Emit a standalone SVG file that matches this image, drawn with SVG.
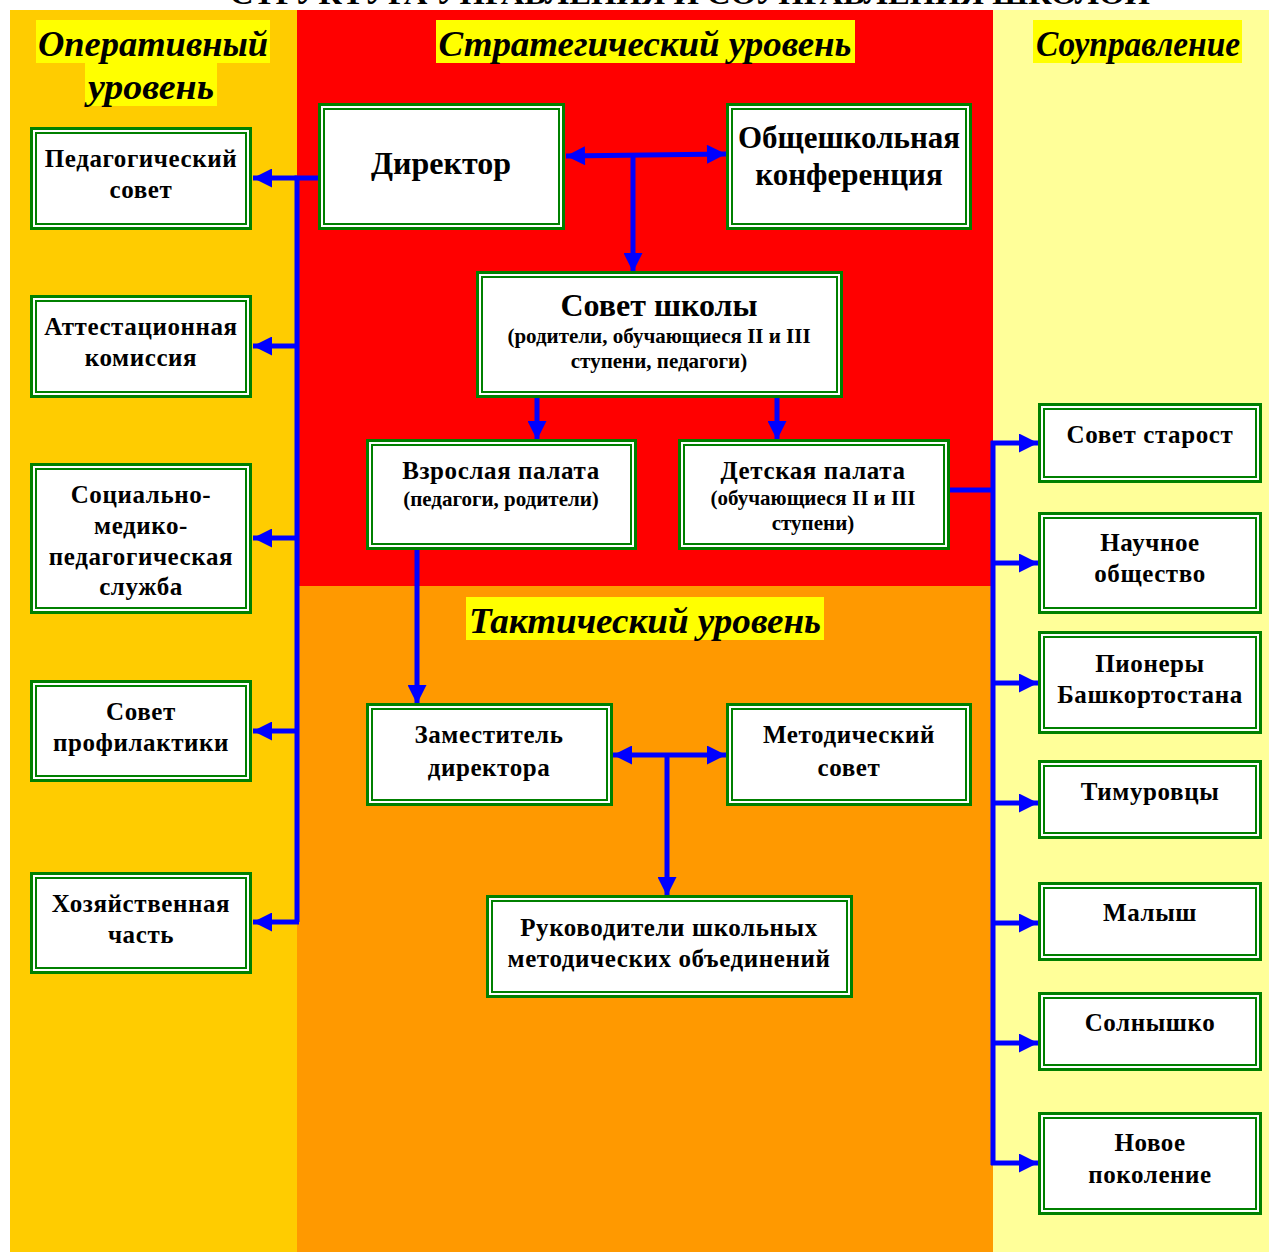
<svg xmlns="http://www.w3.org/2000/svg" width="1269" height="1252" viewBox="0 0 1269 1252">
<defs>
<style>
.box{fill:#fff;stroke:#008000;stroke-width:3}
.inner{fill:none;stroke:#008000;stroke-width:2}
.t{font-family:"Liberation Serif","Times New Roman",serif;font-weight:bold;fill:#000;text-anchor:middle}
.n{font-size:25px;letter-spacing:0.6px}
.s{font-size:21px}
.h{font-family:"Liberation Serif","Times New Roman",serif;font-weight:bold;font-style:italic;font-size:36px;fill:#000;text-anchor:middle}
.hl{fill:#FFFF00}
.c{stroke:#0000FF;stroke-width:5;fill:none}
</style>
<marker id="ah" viewBox="0 0 10 10" refX="10" refY="5" markerWidth="4.4" markerHeight="3.8" orient="auto-start-reverse" markerUnits="strokeWidth">
<path d="M0,0 L10,5 L0,10 z" fill="#0000FF"/>
</marker>
</defs>
<rect x="0" y="0" width="1269" height="1252" fill="#fff"/>
<rect x="10" y="10" width="287" height="1242" fill="#FFCC00"/>
<rect x="297" y="10" width="696" height="576" fill="#FF0000"/>
<rect x="297" y="586" width="696" height="666" fill="#FF9900"/>
<rect x="993" y="10" width="276" height="1242" fill="#FFFF99"/>
<text x="690" y="4" class="t" font-size="30" textLength="920" lengthAdjust="spacingAndGlyphs">СТРУКТУРА УПРАВЛЕНИЯ И СОУПРАВЛЕНИЯ ШКОЛОЙ</text>

<g id="headers">
<rect x="36" y="20" width="234" height="43" class="hl"/>
<rect x="85" y="63" width="132" height="43" class="hl"/>
<text x="153" y="56" class="h" textLength="230" lengthAdjust="spacingAndGlyphs">Оперативный</text>
<text x="151" y="99" class="h" textLength="126" lengthAdjust="spacingAndGlyphs">уровень</text>
<rect x="436" y="20" width="419" height="43" class="hl"/>
<text x="645" y="56" class="h" textLength="413" lengthAdjust="spacingAndGlyphs">Стратегический уровень</text>
<rect x="1033" y="20" width="209" height="43" class="hl"/>
<text x="1138" y="56" class="h" textLength="204" lengthAdjust="spacingAndGlyphs">Соуправление</text>
<rect x="466" y="597" width="358" height="43" class="hl"/>
<text x="645" y="633" class="h" textLength="352" lengthAdjust="spacingAndGlyphs">Тактический уровень</text>
</g>

<g id="connectors">
<polyline class="c" points="320,178 297,178 297,922"/>
<line class="c" x1="297" y1="178" x2="253" y2="178" marker-end="url(#ah)"/>
<line class="c" x1="297" y1="346" x2="253" y2="346" marker-end="url(#ah)"/>
<line class="c" x1="297" y1="538" x2="253" y2="538" marker-end="url(#ah)"/>
<line class="c" x1="297" y1="731" x2="253" y2="731" marker-end="url(#ah)"/>
<line class="c" x1="299" y1="922" x2="253" y2="922" marker-end="url(#ah)"/>
<line class="c" x1="566" y1="156" x2="726" y2="154" marker-start="url(#ah)" marker-end="url(#ah)"/>
<line class="c" x1="633" y1="155" x2="633" y2="272" marker-end="url(#ah)"/>
<line class="c" x1="537" y1="398" x2="537" y2="440" marker-end="url(#ah)"/>
<line class="c" x1="777" y1="398" x2="777" y2="440" marker-end="url(#ah)"/>
<line class="c" x1="417" y1="540" x2="417" y2="704" marker-end="url(#ah)"/>
<polyline class="c" points="946,490 993,490"/>
<line class="c" x1="993" y1="441" x2="993" y2="1165"/>
<line class="c" x1="991" y1="443" x2="1038" y2="443" marker-end="url(#ah)"/>
<line class="c" x1="993" y1="563" x2="1038" y2="563" marker-end="url(#ah)"/>
<line class="c" x1="993" y1="683" x2="1038" y2="683" marker-end="url(#ah)"/>
<line class="c" x1="993" y1="803" x2="1038" y2="803" marker-end="url(#ah)"/>
<line class="c" x1="993" y1="923" x2="1038" y2="923" marker-end="url(#ah)"/>
<line class="c" x1="993" y1="1043" x2="1038" y2="1043" marker-end="url(#ah)"/>
<line class="c" x1="991" y1="1163" x2="1038" y2="1163" marker-end="url(#ah)"/>
<line class="c" x1="613" y1="755" x2="726" y2="755" marker-start="url(#ah)" marker-end="url(#ah)"/>
<line class="c" x1="667" y1="755" x2="667" y2="896" marker-end="url(#ah)"/>
</g>

<g id="n-ped"><rect x="31.5" y="128.5" width="219" height="100" class="box"/><rect x="36" y="133" width="210" height="91" class="inner"/>
<text x="141" y="167" class="t n">Педагогический</text><text x="141" y="198" class="t n">совет</text></g>
<g id="n-att"><rect x="31.5" y="296.5" width="219" height="100" class="box"/><rect x="36" y="301" width="210" height="91" class="inner"/>
<text x="141" y="335" class="t n">Аттестационная</text><text x="141" y="366" class="t n">комиссия</text></g>
<g id="n-soc"><rect x="31.5" y="464.5" width="219" height="148" class="box"/><rect x="36" y="469" width="210" height="139" class="inner"/>
<text x="141" y="503" class="t n">Социально-</text><text x="141" y="534" class="t n">медико-</text><text x="141" y="565" class="t n">педагогическая</text><text x="141" y="595" class="t n">служба</text></g>
<g id="n-prof"><rect x="31.5" y="681.5" width="219" height="99" class="box"/><rect x="36" y="686" width="210" height="90" class="inner"/>
<text x="141" y="720" class="t n">Совет</text><text x="141" y="751" class="t n">профилактики</text></g>
<g id="n-hoz"><rect x="31.5" y="873.5" width="219" height="99" class="box"/><rect x="36" y="878" width="210" height="90" class="inner"/>
<text x="141" y="912" class="t n">Хозяйственная</text><text x="141" y="943" class="t n">часть</text></g>

<g id="n-dir"><rect x="319.5" y="104.5" width="244" height="124" class="box"/><rect x="324" y="109" width="235" height="115" class="inner"/>
<text x="441" y="174" class="t" font-size="32">Директор</text></g>
<g id="n-konf"><rect x="727.5" y="104.5" width="243" height="124" class="box"/><rect x="732" y="109" width="234" height="115" class="inner"/>
<text x="849" y="148" class="t" font-size="31">Общешкольная</text><text x="849" y="185" class="t" font-size="31">конференция</text></g>
<g id="n-sovet"><rect x="477.5" y="272.5" width="364" height="124" class="box"/><rect x="482" y="277" width="355" height="115" class="inner"/>
<text x="659" y="316" class="t" font-size="32">Совет школы</text>
<text x="659" y="343" class="t s">(родители, обучающиеся II и III</text><text x="659" y="368" class="t s">ступени, педагоги)</text></g>
<g id="n-vzr"><rect x="367.5" y="440.5" width="268" height="108" class="box"/><rect x="372" y="445" width="259" height="99" class="inner"/>
<text x="501" y="479" class="t n">Взрослая палата</text><text x="501" y="506" class="t s">(педагоги, родители)</text></g>
<g id="n-det"><rect x="679.5" y="440.5" width="269" height="108" class="box"/><rect x="684" y="445" width="260" height="99" class="inner"/>
<text x="813" y="479" class="t n">Детская палата</text><text x="813" y="505" class="t s">(обучающиеся II и III</text><text x="813" y="530" class="t s">ступени)</text></g>
<g id="n-zam"><rect x="367.5" y="704.5" width="244" height="100" class="box"/><rect x="372" y="709" width="235" height="91" class="inner"/>
<text x="489" y="743" class="t n">Заместитель</text><text x="489" y="776" class="t n">директора</text></g>
<g id="n-met"><rect x="727.5" y="704.5" width="243" height="100" class="box"/><rect x="732" y="709" width="234" height="91" class="inner"/>
<text x="849" y="743" class="t n">Методический</text><text x="849" y="776" class="t n">совет</text></g>
<g id="n-ruk"><rect x="487.5" y="896.5" width="364" height="100" class="box"/><rect x="492" y="901" width="355" height="91" class="inner"/>
<text x="669" y="936" class="t n">Руководители школьных</text><text x="669" y="967" class="t n">методических объединений</text></g>

<g id="n-star"><rect x="1039.5" y="404.5" width="221" height="77" class="box"/><rect x="1044" y="409" width="212" height="68" class="inner"/>
<text x="1150" y="443" class="t n">Совет старост</text></g>
<g id="n-nauch"><rect x="1039.5" y="513.5" width="221" height="99" class="box"/><rect x="1044" y="518" width="212" height="90" class="inner"/>
<text x="1150" y="551" class="t n">Научное</text><text x="1150" y="582" class="t n">общество</text></g>
<g id="n-pion"><rect x="1039.5" y="632.5" width="221" height="100" class="box"/><rect x="1044" y="637" width="212" height="91" class="inner"/>
<text x="1150" y="672" class="t n">Пионеры</text><text x="1150" y="703" class="t n">Башкортостана</text></g>
<g id="n-tim"><rect x="1039.5" y="761.5" width="221" height="76" class="box"/><rect x="1044" y="766" width="212" height="67" class="inner"/>
<text x="1150" y="800" class="t n">Тимуровцы</text></g>
<g id="n-mal"><rect x="1039.5" y="883.5" width="221" height="76" class="box"/><rect x="1044" y="888" width="212" height="67" class="inner"/>
<text x="1150" y="921" class="t n">Малыш</text></g>
<g id="n-sol"><rect x="1039.5" y="993.5" width="221" height="76" class="box"/><rect x="1044" y="998" width="212" height="67" class="inner"/>
<text x="1150" y="1031" class="t n">Солнышко</text></g>
<g id="n-nov"><rect x="1039.5" y="1113.5" width="221" height="100" class="box"/><rect x="1044" y="1118" width="212" height="91" class="inner"/>
<text x="1150" y="1151" class="t n">Новое</text><text x="1150" y="1183" class="t n">поколение</text></g>
</svg>
